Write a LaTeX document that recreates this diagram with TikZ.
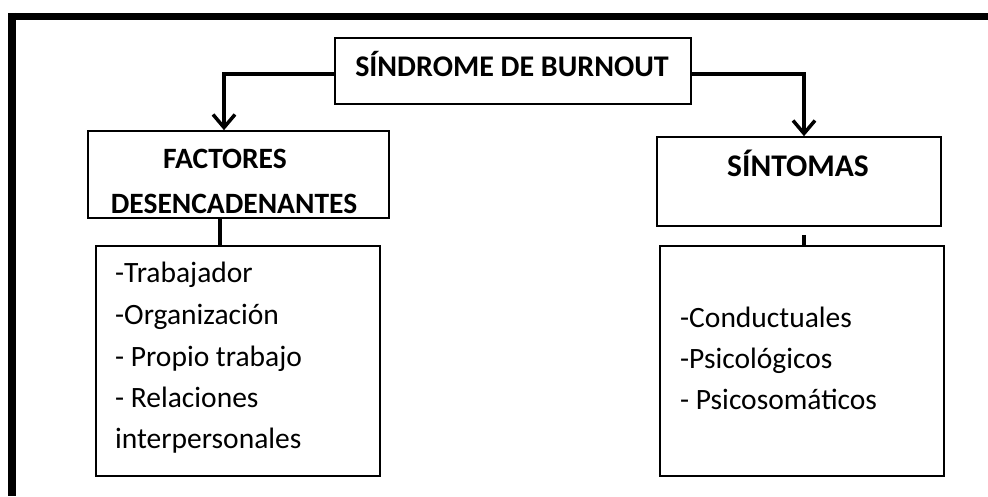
\documentclass[tikz,border=0pt]{standalone}
\usepackage{fontspec}
\setmainfont{Carlito}
\usetikzlibrary{arrows.meta,calc}
\begin{document}
\begin{tikzpicture}[x=1pt,y=-1pt,
  box/.style={draw=black,line width=1.6pt,rectangle,inner sep=0pt},
  title/.style={anchor=base,inner sep=0pt,font=\fontsize{29.5}{34}\bfseries\selectfont},
  item/.style={anchor=base west,inner sep=0pt,font=\fontsize{29.5}{34}\selectfont},
  conn/.style={line width=3.5pt},
  arr/.style={line width=3.5pt,-{Straight Barb[length=13pt,width=22pt,line width=3.5pt]}},
  frame/.style={line width=7.5pt}]
\useasboundingbox (0,0) rectangle (988,496);
\fill[white] (0,0) rectangle (988,496);
% outer frame
\coordinate (fTL) at (12,16.5);
\coordinate (fTR) at (988,16.5);
\coordinate (fBL) at (12,496);
\draw[frame] (fTR) -- ([xshift=-3.75pt]fTL) ;
\draw[frame] ([yshift=3.75pt]fTL) -- (fBL);
% boxes
\node[box,minimum width=356pt,minimum height=66pt] (top) at (513,71) {};
\node[box,minimum width=301pt,minimum height=87pt] (fac) at (238.5,174.5) {};
\node[box,minimum width=284pt,minimum height=230pt] (lista) at (238,361) {};
\node[box,minimum width=284pt,minimum height=89pt] (sin) at (799,181.5) {};
\node[box,minimum width=284pt,minimum height=230pt] (listb) at (802,361) {};
% titles
\node[title,font=\fontsize{30}{34}\bfseries\selectfont] (ttop) at (512,76) {SÍNDROME DE BURNOUT};
\node[title] (tfac1) at (225,168) {FACTORES};
\node[title] (tfac2) at (234,213) {DESENCADENANTES};
\node[title,font=\fontsize{31.5}{36}\bfseries\selectfont] (tsin) at (798,176) {SÍNTOMAS};
% items left
\node[item] (a1) at (115,282) {-Trabajador};
\node[item] (a2) at (115,324) {-Organización};
\node[item] (a3) at (115,366) {- Propio trabajo};
\node[item] (a4) at (115,407) {- Relaciones};
\node[item] (a5) at (115,448) {interpersonales};
% items right
\node[item] (b1) at (680,327) {-Conductuales};
\node[item] (b2) at (680,368) {-Psicológicos};
\node[item] (b3) at (680,409) {- Psicosomáticos};
% connectors
\coordinate (lc) at (224,74);
\coordinate (rc) at (804,74);
\draw[arr] (top.west |- lc) -| (lc |- fac.north);
\draw[arr] (top.east |- rc) -| (rc |- sin.north);
\draw[conn] (fac.south -| 220,0) -- (lista.north -| 220,0);
\draw[conn] ([yshift=-8pt]sin.south -| 804,0) -- (listb.north -| 804,0);
\end{tikzpicture}
\end{document}
